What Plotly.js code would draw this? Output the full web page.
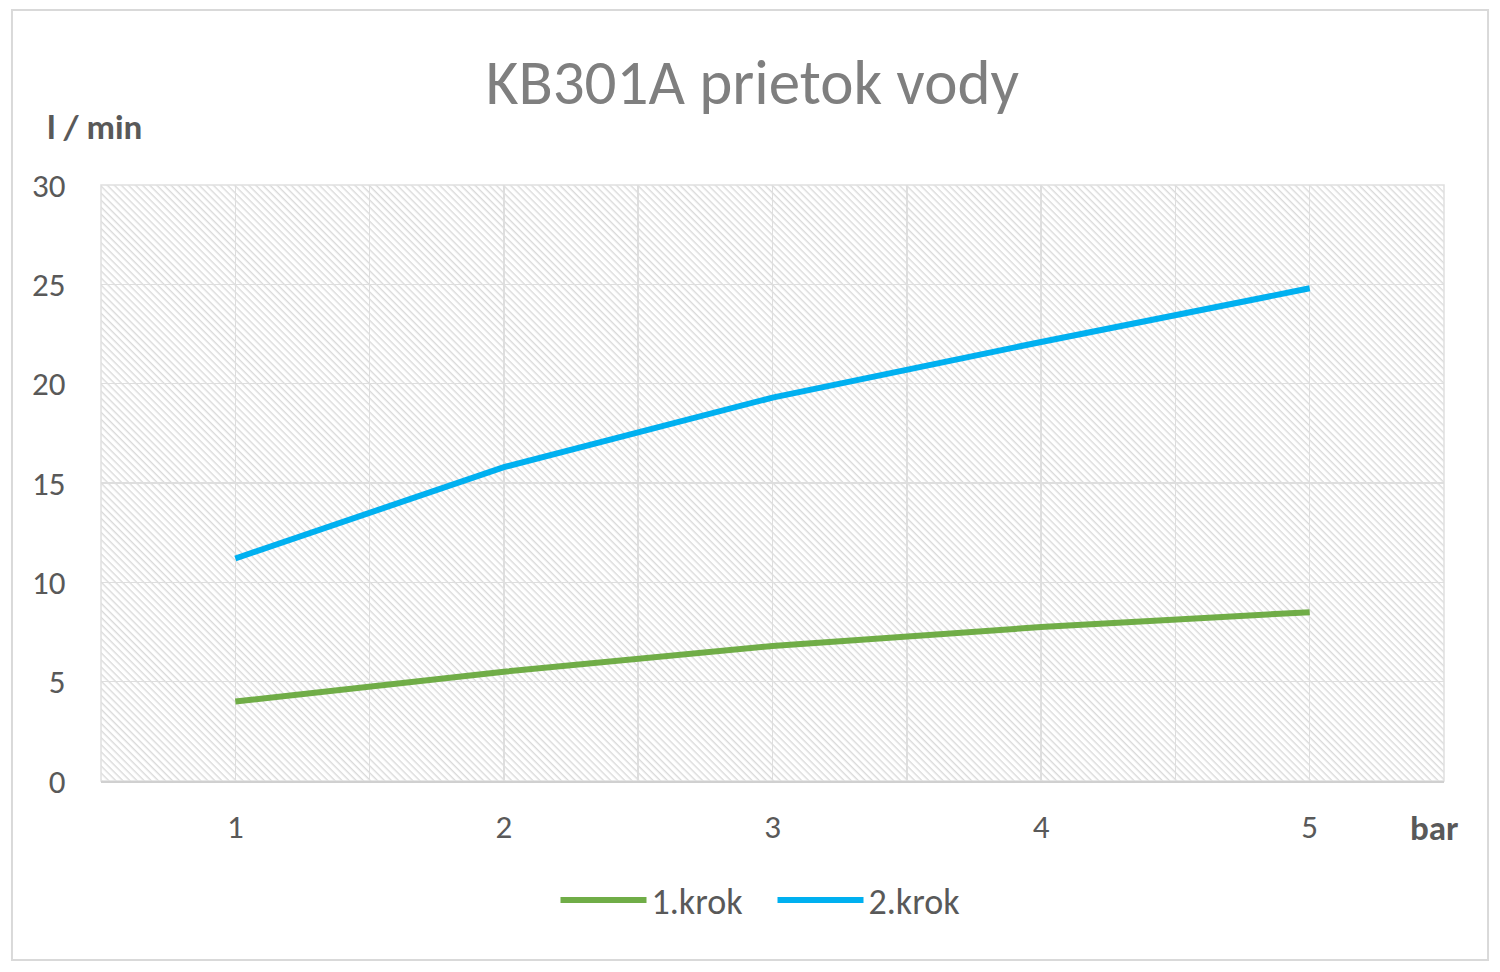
<!DOCTYPE html>
<html>
<head>
<meta charset="utf-8">
<script src="https://cdn.plot.ly/plotly-3.0.1.min.js"></script>
<style>
  html, body { margin: 0; padding: 0; background: #ffffff; }
  #graphe { width: 1500px; height: 972px; }
</style>
</head>
<body>
<div id="graphe"></div>
<script>
// tlak v bar
let tlak = [1, 2, 3, 4, 5]
// prietok l/min
let krok_1 = [4.0, 5.5, 6.8, 7.75, 8.5]
let krok_2 = [11.2, 15.8, 19.3, 22.1, 24.8]
let nazvy = ["1.krok", "2.krok"]
let farby = ["#70ad47", "#00b0f0"]
let y_ticky = [0, 5, 10, 15, 20, 25, 30]

let font_meno = "Carlito, Lato, 'Open Sans', sans-serif"

// sraffovane pozadie grafu
let sraf = '<svg xmlns="http://www.w3.org/2000/svg" width="1343" height="596" viewBox="0 0 1343 596" preserveAspectRatio="none">'
    + '<defs><pattern id="p" width="5" height="5" patternUnits="userSpaceOnUse" patternTransform="rotate(45)">'
    + '<rect width="5" height="5" fill="#ffffff"/><rect width="5" height="1.4" fill="#dadada"/></pattern></defs>'
    + '<rect width="1343" height="596" fill="url(#p)"/></svg>'

let data = new Array()
let serie = [krok_1, krok_2]
for (let i = 0; i < serie.length; i++){
    data.push({
        x: tlak, y: serie[i], mode: "lines", type: "scatter", name: nazvy[i],
        line: {width: 6, color: farby[i], shape: "linear"}
    })
}

let layout = {
    width: 1500,
    height: 972,
    paper_bgcolor: "#ffffff",
    plot_bgcolor: "rgba(0,0,0,0)",
    font: {family: font_meno, color: "#595959", size: 33},
    title: {
        text: "KB301A prietok vody",
        font: {family: font_meno, size: 63, color: "#7f7f7f"},
        x: 0.485, xref: "paper", xanchor: "center",
        y: 0.916, yref: "container", yanchor: "middle"
    },
    xaxis: {
        range: [0.5, 5.5],
        tickvals: tlak,
        ticktext: tlak.map(String),
        ticks: "outside", ticklen: 15, tickcolor: "rgba(0,0,0,0)",
        showgrid: true, gridcolor: "#dedede", gridwidth: 1.5,
        minor: {tick0: 0.5, dtick: 1, showgrid: true, gridcolor: "#dedede", gridwidth: 1.5},
        showline: true, linecolor: "#d0d0d0", linewidth: 2, mirror: false,
        zeroline: false,
        tickfont: {size: 33, color: "#595959"},
        fixedrange: true
    },
    yaxis: {
        range: [0, 30],
        tickvals: y_ticky,
        ticks: "outside", ticklen: 28, tickcolor: "rgba(0,0,0,0)",
        showgrid: true, gridcolor: "#dedede", gridwidth: 1.5,
        zeroline: false, showline: false,
        tickfont: {size: 33, color: "#595959"},
        fixedrange: true
    },
    showlegend: true,
    legend: {
        orientation: "h",
        x: 0.5, xanchor: "center",
        y: -0.2, yanchor: "middle",
        font: {size: 36, color: "#595959"},
        itemwidth: 86,
        entrywidth: 116,
        traceorder: "normal"
    },
    margin: {l: 101, r: 56, t: 185, b: 191, pad: 0},
    images: [{
        source: "data:image/svg+xml;charset=utf-8," + encodeURIComponent(sraf),
        xref: "paper", yref: "paper", x: 0, y: 1, sizex: 1, sizey: 1,
        xanchor: "left", yanchor: "top", sizing: "stretch", layer: "below"
    }],
    shapes: [
        {type: "rect", xref: "paper", yref: "paper", x0: 0, x1: 1, y0: 0, y1: 1,
            line: {color: "#e0e0e0", width: 1.5}, layer: "below"},
        {type: "rect", xref: "paper", yref: "paper", x0: -0.0663, x1: 1.0328, y0: -0.3003, y1: 1.2936,
            line: {color: "#d9d9d9", width: 2}}
    ],
    annotations: [
        {text: "<b>l / min</b>", xref: "paper", yref: "paper", x: -0.0417, y: 1.097,
            xanchor: "left", yanchor: "middle", showarrow: false,
            font: {size: 35, color: "#595959"}},
        {text: "<b>bar</b>", xref: "paper", yref: "paper", x: 0.993, y: -0.079,
            xanchor: "center", yanchor: "middle", showarrow: false,
            font: {size: 35, color: "#595959"}}
    ]
}

Plotly.newPlot("graphe", data, layout, {staticPlot: true, responsive: false})
</script>
</body>
</html>
